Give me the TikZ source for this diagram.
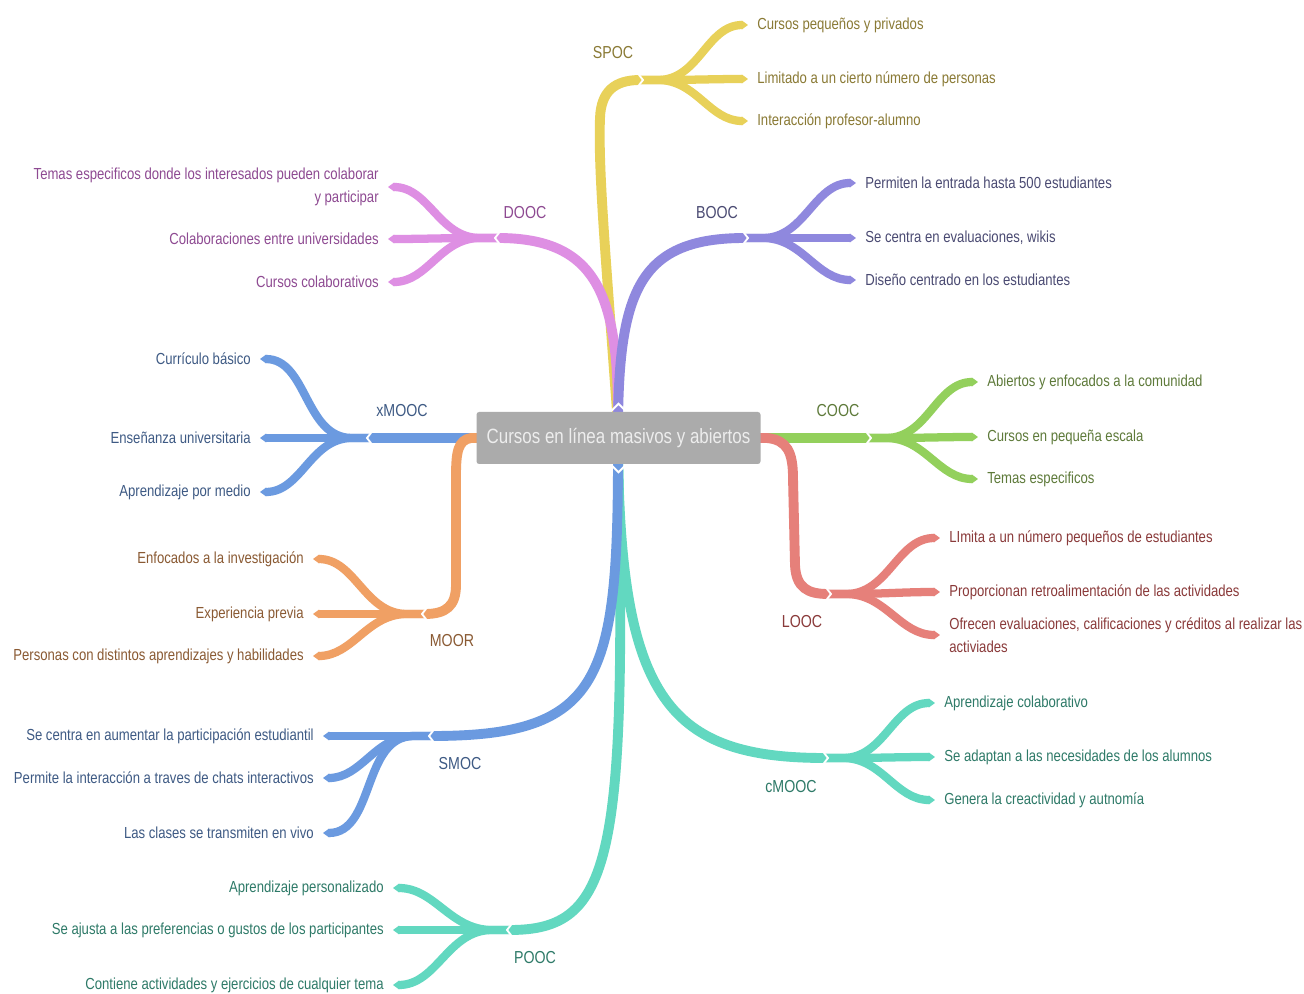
\documentclass[tikz,border=0pt]{standalone}
\usepackage{fontspec}
\setmainfont{Liberation Sans}[FakeStretch=0.82]
\usetikzlibrary{arrows.meta}
\definecolor{cY}{HTML}{E8D159}
\definecolor{cP}{HTML}{DE8FE3}
\definecolor{cV}{HTML}{8F88DE}
\definecolor{cB}{HTML}{6B9AE0}
\definecolor{cO}{HTML}{F0A064}
\definecolor{cG}{HTML}{93D05C}
\definecolor{cR}{HTML}{E6807A}
\definecolor{cT}{HTML}{62D8C0}
\definecolor{tY}{HTML}{8A7A35}
\definecolor{tP}{HTML}{8E4A92}
\definecolor{tV}{HTML}{4A4A72}
\definecolor{tB}{HTML}{3E5A84}
\definecolor{tO}{HTML}{8A5A33}
\definecolor{tG}{HTML}{5E7A3A}
\definecolor{tR}{HTML}{8A3A3A}
\definecolor{tT}{HTML}{2E7A68}
\definecolor{boxgray}{HTML}{ABABAB}
\newcommand\chevR[1]{\draw[chev] (#1) ++(-4,-9) -- ++(7,9) -- ++(-7,9);}
\newcommand\chevL[1]{\draw[chev] (#1) ++(4,-9) -- ++(-7,9) -- ++(7,9);}
\begin{document}
\begin{tikzpicture}[x=0.75pt,y=-0.75pt,
  mainbr/.style={line width=7.4pt},
  leafbr/.style={line width=6.2pt,-{Triangle[length=0pt 0.75,width=0pt 1.05]}},
  chev/.style={draw=white,line width=1.4pt},
  itemR/.style={anchor=west,inner sep=0pt,outer xsep=7pt,font=\fontsize{12pt}{17pt}\selectfont,align=left},
  itemL/.style={anchor=east,inner sep=0pt,outer xsep=7pt,font=\fontsize{12pt}{17pt}\selectfont,align=right},
  lbl/.style={inner sep=0pt,font=\fontsize{13pt}{15pt}\selectfont},
  rootbox/.style={fill=boxgray,rounded corners=2pt,minimum width=213pt,minimum height=39pt,inner sep=0pt,text=white!93!black,font=\fontsize{15.5pt}{18pt}\selectfont}]
\fill[white] (0,0) rectangle (1304,994);
\useasboundingbox (0,0) rectangle (1304,994);
% anchor points of the central topic
\coordinate (cTop) at (618,425);
\coordinate (cBot) at (618,452);
\coordinate (cLft) at (485,438);
\coordinate (cRgt) at (752,438);
% hubs
\coordinate (spocH) at (640,80);
\coordinate (doocH) at (498,238);
\coordinate (boocH) at (745,238);
\coordinate (xmoocH) at (370,438);
\coordinate (moorH) at (425,614);
\coordinate (coocH) at (868,438);
\coordinate (loocH) at (828,594);
\coordinate (smocH) at (432,736);
\coordinate (cmoocH) at (825,758);
\coordinate (poocH) at (510,930);
% main branches
\draw[mainbr,cY] (cTop) .. controls (606,260) and (598,170) .. (600,118) .. controls (601,92) and (614,80) .. (spocH);
\draw[mainbr,cP] (cTop) .. controls (619,300) and (600,238) .. (doocH);
\draw[mainbr,cV] (cTop) .. controls (619,290) and (640,238) .. (boocH);
\draw[mainbr,cB] (cLft) -- (xmoocH);
\draw[mainbr,cO] (cLft) -- (471,438) .. controls (458,440) and (456,452) .. (456,476) -- (456,585) .. controls (456,606) and (446,614) .. (moorH);
\draw[mainbr,cG] (cRgt) -- (coocH);
\draw[mainbr,cR] (cRgt) -- (767,438) .. controls (787,440) and (793,452) .. (793,478) -- (795,565) .. controls (796,588) and (808,594) .. (loocH);
\draw[mainbr,cT] (cBot) .. controls (621,700) and (670,758) .. (cmoocH);
\draw[mainbr,cT] (cBot) .. controls (627,860) and (612,930) .. (poocH);
\draw[mainbr,cB] (cBot) .. controls (618,680) and (602,736) .. (smocH);
% item nodes
\node[itemR,text=tY] (s1) at (748,25) {Cursos pequeños y privados};
\node[itemR,text=tY] (s2) at (748,79) {Limitado a un cierto número de personas};
\node[itemR,text=tY] (s3) at (748,121) {Interacción profesor-alumno};
\node[itemR,text=tV] (b1) at (856,183) {Permiten la entrada hasta 500 estudiantes};
\node[itemR,text=tV] (b2) at (856,238) {Se centra en evaluaciones, wikis};
\node[itemR,text=tV] (b3) at (856,280) {Diseño centrado en los estudiantes};
\node[itemR,text=tG] (c1) at (978,382) {Abiertos y enfocados a la comunidad};
\node[itemR,text=tG] (c2) at (978,437) {Cursos en pequeña escala};
\node[itemR,text=tG] (c3) at (978,479) {Temas especificos};
\node[itemR,text=tR] (l1) at (940,538) {LImita a un número pequeños de estudiantes};
\node[itemR,text=tR] (l2) at (940,592) {Proporcionan retroalimentación de las actividades};
\node[itemR,text=tR] (l3) at (940,635) {Ofrecen evaluaciones, calificaciones y créditos al realizar las\\activiades};
\node[itemR,text=tT] (m1) at (935,703) {Aprendizaje colaborativo};
\node[itemR,text=tT] (m2) at (935,757) {Se adaptan a las necesidades de los alumnos};
\node[itemR,text=tT] (m3) at (935,800) {Genera la creactividad y autnomía};
\node[itemL,text=tP] (d1) at (388,187) {Temas especificos donde los interesados pueden colaborar\\y participar};
\node[itemL,text=tP] (d2) at (388,239) {Colaboraciones entre universidades};
\node[itemL,text=tP] (d3) at (388,282) {Cursos colaborativos};
\node[itemL,text=tB] (x1) at (260,359) {Currículo básico};
\node[itemL,text=tB] (x2) at (260,438) {Enseñanza universitaria};
\node[itemL,text=tB] (x3) at (260,492) {Aprendizaje por medio};
\node[itemL,text=tO] (o1) at (313,559) {Enfocados a la investigación};
\node[itemL,text=tO] (o2) at (313,614) {Experiencia previa};
\node[itemL,text=tO] (o3) at (313,656) {Personas con distintos aprendizajes y habilidades};
\node[itemL,text=tB] (sm1) at (323,736) {Se centra en aumentar la participación estudiantil};
\node[itemL,text=tB] (sm2) at (323,778) {Permite la interacción a traves de chats interactivos};
\node[itemL,text=tB] (sm3) at (323,833) {Las clases se transmiten en vivo};
\node[itemL,text=tT] (p1) at (393,888) {Aprendizaje personalizado};
\node[itemL,text=tT] (p2) at (393,930) {Se ajusta a las preferencias o gustos de los participantes};
\node[itemL,text=tT] (p3) at (393,985) {Contiene actividades y ejercicios de cualquier tema};
% leaf connectors
\foreach \h/\n/\c in {spocH/s1/cY,spocH/s2/cY,spocH/s3/cY,boocH/b1/cV,boocH/b2/cV,boocH/b3/cV,
  coocH/c1/cG,coocH/c2/cG,coocH/c3/cG,loocH/l1/cR,loocH/l2/cR,loocH/l3/cR,cmoocH/m1/cT,cmoocH/m2/cT,cmoocH/m3/cT}
  \draw[leafbr,\c] (\h) -- ++(18,0) to[out=0,in=180] (\n.west);
\foreach \h/\n/\c in {doocH/d1/cP,doocH/d2/cP,doocH/d3/cP,xmoocH/x1/cB,xmoocH/x2/cB,xmoocH/x3/cB,
  moorH/o1/cO,moorH/o2/cO,moorH/o3/cO,smocH/sm1/cB,smocH/sm2/cB,smocH/sm3/cB,poocH/p1/cT,poocH/p2/cT,poocH/p3/cT}
  \draw[leafbr,\c] (\h) -- ++(-18,0) to[out=180,in=0] (\n.east);
% chevrons at hubs
\chevR{spocH}\chevR{boocH}\chevR{coocH}\chevR{loocH}\chevR{cmoocH}
\chevL{doocH}\chevL{xmoocH}\chevL{moorH}\chevL{smocH}\chevL{poocH}
% branch labels
\node[lbl,text=tY] (spoc) at (613,53) {SPOC};
\node[lbl,text=tP] (dooc) at (525,213) {DOOC};
\node[lbl,text=tV] (booc) at (717,213) {BOOC};
\node[lbl,text=tB] (xmooc) at (402,411) {xMOOC};
\node[lbl,text=tO] (moor) at (452,641) {MOOR};
\node[lbl,text=tG] (cooc) at (838,411) {COOC};
\node[lbl,text=tR] (looc) at (802,622) {LOOC};
\node[lbl,text=tB] (smoc) at (460,764) {SMOC};
\node[lbl,text=tT] (cmooc) at (791,787) {cMOOC};
\node[lbl,text=tT] (pooc) at (535,958) {POOC};
% central topic
\node[rootbox] (root) at (618.5,438) {Cursos en línea masivos y abiertos};
\draw[chev] (root.north) ++(-7,-1) -- ++(7,-7) -- ++(7,7);
\draw[chev] (root.south) ++(-7,1) -- ++(7,7) -- ++(7,-7);
\end{tikzpicture}
\end{document}
